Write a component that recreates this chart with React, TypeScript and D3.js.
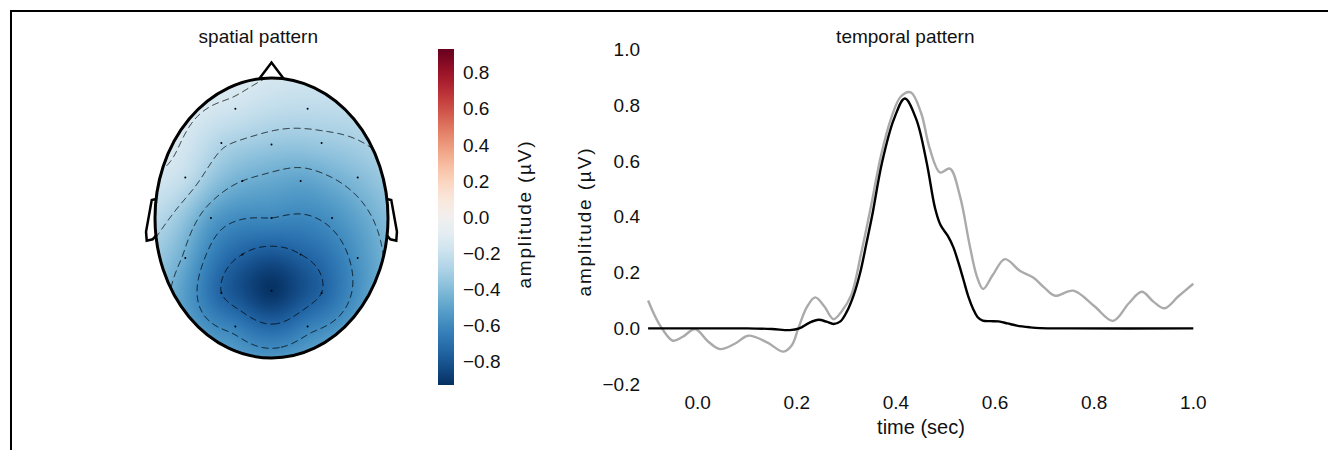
import { useMemo } from "react";
import * as d3 from "d3";

// electrode layout in head units (x to the right, y up, head radius = 1)
const elecX = [-0.31, 0.31, -0.43, 0, 0.43, -0.74, -0.25, 0.25, 0.74, -0.52, 0, 0.52, -0.74, -0.25, 0.25, 0.74, -0.43, 0, 0.43, -0.31, 0.31];
const elecY = [0.78, 0.78, 0.535, 0.525, 0.535, 0.29, 0.265, 0.265, 0.29, 0, 0, 0, -0.285, -0.26, -0.26, -0.285, -0.535, -0.52, -0.535, -0.775, -0.775];
const elecV = [-0.18, -0.24, -0.28, -0.35, -0.34, -0.22, -0.45, -0.5, -0.4, -0.52, -0.6, -0.57, -0.47, -0.75, -0.75, -0.56, -0.75, -0.92, -0.75, -0.64, -0.64];
const contourLevels = [-0.15, -0.3, -0.45, -0.6, -0.75];
const cbarTicks = [-0.8, -0.6, -0.4, -0.2, 0, 0.2, 0.4, 0.6, 0.8];
const vLim = 0.93;

// temporal pattern (time in sec, amplitude in µV)
const grayT = [-0.1, -0.085, -0.072, -0.05, -0.03, -0.005, 0.02, 0.045, 0.075, 0.102, 0.14, 0.173, 0.19, 0.203, 0.22, 0.237, 0.255, 0.274, 0.29, 0.31, 0.33, 0.35, 0.37, 0.39, 0.41, 0.43, 0.451, 0.468, 0.489, 0.509, 0.529, 0.549, 0.563, 0.576, 0.595, 0.62, 0.65, 0.677, 0.7, 0.721, 0.758, 0.8, 0.838, 0.87, 0.896, 0.92, 0.942, 0.97, 1.0];
const grayV = [0.1, 0.04, 0.0, -0.044, -0.03, -0.002, -0.045, -0.074, -0.055, -0.026, -0.05, -0.083, -0.06, 0.0, 0.075, 0.111, 0.08, 0.033, 0.06, 0.12, 0.27, 0.44, 0.62, 0.75, 0.83, 0.845, 0.77, 0.645, 0.558, 0.572, 0.475, 0.296, 0.188, 0.141, 0.19, 0.248, 0.206, 0.182, 0.145, 0.117, 0.135, 0.08, 0.027, 0.09, 0.131, 0.095, 0.072, 0.115, 0.16];
const blackT = [-0.1, 0.0, 0.1, 0.15, 0.186, 0.205, 0.225, 0.244, 0.26, 0.274, 0.288, 0.301, 0.315, 0.328, 0.34, 0.352, 0.372, 0.396, 0.418, 0.441, 0.462, 0.479, 0.49, 0.505, 0.516, 0.526, 0.536, 0.546, 0.556, 0.565, 0.575, 0.59, 0.607, 0.625, 0.644, 0.67, 0.691, 0.75, 1.0];
const blackV = [0, 0, 0, -0.002, -0.006, 0, 0.02, 0.031, 0.024, 0.016, 0.025, 0.06, 0.12, 0.2, 0.3, 0.403, 0.594, 0.749, 0.823, 0.749, 0.594, 0.43, 0.37, 0.33, 0.29, 0.236, 0.176, 0.115, 0.069, 0.04, 0.028, 0.026, 0.025, 0.018, 0.01, 0.004, 0.001, 0, 0];
const xTicks = [0, 0.2, 0.4, 0.6, 0.8, 1.0];
const yTicks = [-0.2, 0, 0.2, 0.4, 0.6, 0.8, 1.0];

const FONT = "'Liberation Sans', Arial, Helvetica, sans-serif";
const TXT = "#111";

// head outline pieces, head units
const nose = [[-0.105, 0.995], [0, 1.11], [0.105, 0.995]];
const ear = [[-0.991, 0.136], [-1.028, 0.129], [-1.077, -0.098], [-1.071, -0.162], [-1.02, -0.152], [-0.987, -0.121]];

function green(r: number) {
  return r === 0 ? 0 : r * r * (Math.log(r) - 1);
}

function solve(A: number[][], b: number[]) {
  const n = b.length;
  const M = A.map((row, i) => [...row, b[i]]);
  for (let c = 0; c < n; c++) {
    let p = c;
    for (let r = c + 1; r < n; r++) if (Math.abs(M[r][c]) > Math.abs(M[p][c])) p = r;
    [M[c], M[p]] = [M[p], M[c]];
    for (let r = 0; r < n; r++) {
      if (r === c) continue;
      const f = M[r][c] / M[c][c];
      for (let k = c; k <= n; k++) M[r][k] -= f * M[c][k];
    }
  }
  return M.map((row, i) => row[n] / row[i]);
}

export default function App() {
  const hx = d3.scaleLinear().domain([-1, 1]).range([155, 388]);
  const hy = d3.scaleLinear().domain([-1, 1]).range([358, 78]);
  const cmap = (v: number) => d3.interpolateRdBu(1 - (v + vLim) / (2 * vLim));

  const field = useMemo(() => {
    const pts = elecX.map((x, i) => [x, elecY[i]]);
    const A = pts.map((p) => pts.map((q) => green(Math.hypot(p[0] - q[0], p[1] - q[1]))));
    const w = solve(A, elecV.slice());
    const x0 = 148, y0 = 72, gw = 248, gh = 292;
    const vals = new Array(gw * gh);
    const canvas = document.createElement("canvas");
    canvas.width = gw;
    canvas.height = gh;
    const ctx = canvas.getContext("2d")!;
    const img = ctx.createImageData(gw, gh);
    for (let j = 0; j < gh; j++) {
      const v = hy.invert(y0 + j + 0.5);
      for (let i = 0; i < gw; i++) {
        const u = hx.invert(x0 + i + 0.5);
        let s = 0;
        for (let k = 0; k < pts.length; k++) s += w[k] * green(Math.hypot(u - pts[k][0], v - pts[k][1]));
        vals[j * gw + i] = s;
        const c = d3.rgb(cmap(Math.max(-vLim, Math.min(vLim, s))));
        const o = (j * gw + i) * 4;
        img.data[o] = c.r;
        img.data[o + 1] = c.g;
        img.data[o + 2] = c.b;
        img.data[o + 3] = 255;
      }
    }
    ctx.putImageData(img, 0, 0);
    const contours = d3.contours().size([gw, gh]).thresholds(contourLevels)(vals);
    const path = d3.geoPath(
      d3.geoTransform({
        point(x: number, y: number) {
          this.stream.point(x0 + x, y0 + y);
        },
      })
    );
    return { href: canvas.toDataURL(), x0, y0, gw, gh, paths: contours.map((c) => path(c) || "") };
  }, []);

  // colorbar
  const cy = d3.scaleLinear().domain([-vLim, vLim]).range([385, 49]);
  const stops = d3.range(0, 1.0001, 0.05);

  // temporal axes
  const xs = d3.scaleLinear().domain([-0.1, 1.0]).range([648.1, 1193.3]);
  const ys = d3.scaleLinear().domain([-0.2, 1.0]).range([384.3, 49]);
  const line = d3.line<number>().curve(d3.curveCatmullRom.alpha(0.5));
  const grayPath = line.x((t) => xs(t)).y((_, i) => ys(grayV[i]))(grayT);
  const blackPath = line.x((t) => xs(t)).y((_, i) => ys(blackV[i]))(blackT);
  const fmt = d3.format(".1f");

  const cx = hx(0), cyH = hy(0), rx = hx(1) - hx(0), ry = hy(-1) - hy(0);
  const pl = (p: number[][]) => p.map((d) => `${hx(d[0])},${hy(d[1])}`).join(" ");
  const plMirror = (p: number[][]) => p.map((d) => `${hx(-d[0])},${hy(d[1])}`).join(" ");

  return (
    <svg width={1328} height={450} style={{ position: "absolute", left: 0, top: 0, background: "#fff" }} fontFamily={FONT}>
      <defs>
        <clipPath id="headClip">
          <ellipse cx={cx} cy={cyH} rx={rx} ry={ry} />
        </clipPath>
        <linearGradient id="cbarGrad" x1="0" y1="1" x2="0" y2="0">
          {stops.map((t) => (
            <stop key={t} offset={t} stopColor={d3.interpolateRdBu(1 - t)} />
          ))}
        </linearGradient>
      </defs>

      {/* frame */}
      <line x1={10} y1={11} x2={1328} y2={11} stroke="#000" strokeWidth={2} />
      <line x1={11} y1={10} x2={11} y2={450} stroke="#000" strokeWidth={2} />

      {/* spatial pattern */}
      <text x={258.3} y={43} textAnchor="middle" fontSize={19} fill={TXT}>spatial pattern</text>
      <g clipPath="url(#headClip)">
        <image href={field.href} x={field.x0} y={field.y0} width={field.gw} height={field.gh} preserveAspectRatio="none" />
        {field.paths.map((d, i) => (
          <path key={i} d={d} fill="none" stroke="#000" strokeOpacity={0.8} strokeWidth={1} strokeDasharray="7,4" />
        ))}
      </g>
      {elecX.map((x, i) => (
        <circle key={i} cx={hx(x)} cy={hy(elecY[i])} r={1} fill="#000" />
      ))}
      <ellipse cx={cx} cy={cyH} rx={rx} ry={ry} fill="none" stroke="#000" strokeWidth={3} />
      <polyline points={pl(nose)} fill="none" stroke="#000" strokeWidth={2.5} strokeLinejoin="miter" />
      <polyline points={pl(ear)} fill="none" stroke="#000" strokeWidth={2.5} />
      <polyline points={plMirror(ear)} fill="none" stroke="#000" strokeWidth={2.5} />

      {/* colorbar */}
      <rect x={438} y={cy(vLim)} width={16} height={cy(-vLim) - cy(vLim)} fill="url(#cbarGrad)" />
      {cbarTicks.map((t) => (
        <text key={t} x={463} y={cy(t) + 0.358 * 19} fontSize={19} fill={TXT}>{fmt(t)}</text>
      ))}
      <text transform="translate(531,215) rotate(-90)" textAnchor="middle" fontSize={19} fill={TXT} textLength={147} lengthAdjust="spacing">amplitude (µV)</text>

      {/* temporal pattern */}
      <text x={905.3} y={43} textAnchor="middle" fontSize={19} fill={TXT}>temporal pattern</text>
      {yTicks.map((t) => (
        <text key={t} x={640} y={ys(t) + 0.358 * 19} textAnchor="end" fontSize={19} fill={TXT}>{fmt(t)}</text>
      ))}
      {xTicks.map((t) => (
        <text key={t} x={xs(t)} y={409} textAnchor="middle" fontSize={19} fill={TXT}>{fmt(t)}</text>
      ))}
      <text x={921} y={434} textAnchor="middle" fontSize={20} fill={TXT}>time (sec)</text>
      <text transform="translate(591,222.5) rotate(-90)" textAnchor="middle" fontSize={19} fill={TXT} textLength={148} lengthAdjust="spacing">amplitude (µV)</text>
      <path d={grayPath || ""} fill="none" stroke="#aaaaaa" strokeWidth={2.4} />
      <path d={blackPath || ""} fill="none" stroke="#000" strokeWidth={2.4} />
    </svg>
  );
}
